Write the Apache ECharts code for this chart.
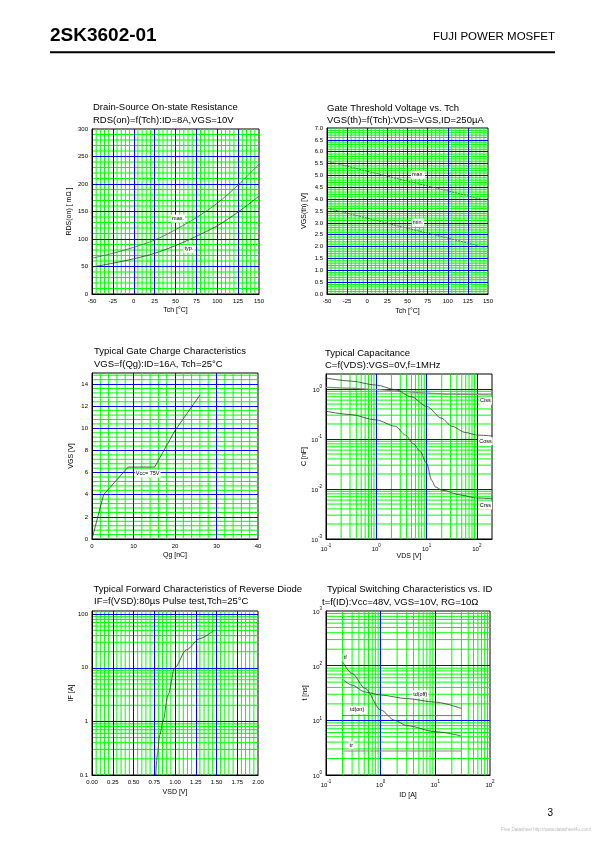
<!DOCTYPE html>
<html><head><meta charset="utf-8">
<script src="https://cdn.jsdelivr.net/npm/echarts@6/dist/echarts.min.js"></script>
<style>html,body{margin:0;padding:0;background:#fff}#c{width:595px;height:842px}</style>
</head><body><div id="c"></div>
<script>
// ---------- data ----------
// 1. RDS(on) vs Tch
const rdsTch = [-50, -25, 0, 25, 50, 75, 100, 125, 150];
const rdsTyp = [49, 56, 64, 74, 88, 105, 124, 149, 178];
const rdsMax = [65, 74, 85, 98, 117, 139, 165, 198, 236];
// 2. VGS(th) vs Tch
const vthTch = [-50, 0, 50, 100, 145];
const vthMax = [5.6, 5.18, 4.76, 4.35, 3.97];
const vthMin = [3.62, 3.2, 2.77, 2.36, 1.97];
// 3. Gate charge
const gcQg  = [0, 2.8, 8.7, 15.1, 20, 26];
const gcVgs = [0, 4.0, 6.5, 6.5, 9.8, 13.0];
// 4. Capacitance
const cissVds = [0.1, 0.3, 1, 3, 10, 30, 100, 200];
const cissC   = [1.08, 1.04, 0.98, 0.9, 0.83, 0.79, 0.77, 0.76];
const cossVds = [0.1, 0.3, 1, 2.4, 5, 10, 20, 31.6, 60, 100, 200];
const cossC   = [1.66, 1.45, 1.2, 0.97, 0.7, 0.45, 0.26, 0.18, 0.135, 0.12, 0.115];
const crssVds = [0.1, 0.3, 1, 2.4, 3.8, 5.5, 7.4, 10, 12.6, 15, 20, 50, 100, 200];
const crssC   = [0.36, 0.31, 0.24, 0.18, 0.12, 0.08, 0.057, 0.033, 0.015, 0.011, 0.0095, 0.0075, 0.0066, 0.0064];
// 5. Reverse diode
const diodeVsd = [0.767, 0.79, 0.815, 0.855, 0.916, 0.996, 1.137, 1.297, 1.466];
const diodeIf  = [0.1, 0.25, 0.56, 1.0, 3.1, 10, 21.7, 35, 50];
// 6. Switching
const tfId = [0.2, 0.3, 0.52, 1, 1.8, 3, 10, 29];
const tfT  = [118, 72, 38.5, 15.5, 10, 8, 6.2, 5.2];
const tdoffId = [0.2, 0.3, 0.52, 1, 3, 10, 30];
const tdoffT  = [57, 44, 33, 29, 25, 21.5, 16.5];
const tdonId = [0.2, 30];
const tdonT  = [12.2, 12.2];
const trId = [0.2, 30];
const trT  = [2.75, 2.75];

// ---------- helpers ----------
const FONT = 'Liberation Sans, Arial, Helvetica, sans-serif';
const BLUE = '#0000ff', GREEN = '#00ff00';
const zip = (a, b) => a.map((v, i) => [v, b[i]]);

function linMinor(min, max, major, minor) {
  const out = []; const n = Math.round((max - min) / minor);
  for (let i = 1; i < n; i++) {
    const v = +(min + i * minor).toFixed(6);
    const r = (v - min) / major;
    if (Math.abs(r - Math.round(r)) > 1e-6) out.push(v);
  }
  return out;
}
function logMinor(min, max) {
  const out = [];
  for (let d = Math.floor(Math.log10(min)); d <= Math.ceil(Math.log10(max)); d++) {
    for (let k = 2; k <= 9; k++) {
      const v = +(k * Math.pow(10, d)).toPrecision(6);
      if (v > min * 1.0001 && v < max * 0.9999) out.push(v);
    }
  }
  return out;
}
function powFmt(v) {
  const l = Math.log10(v), e = Math.round(l);
  if (Math.abs(l - e) > 1e-6) return '';
  return '{b|10}{s|' + e + '}';
}
const powRich = {
  b: { fontSize: 6, fontFamily: FONT, color: '#000', verticalAlign: 'bottom', padding: [3, 0, 0, 0] },
  s: { fontSize: 4.5, fontFamily: FONT, color: '#000', verticalAlign: 'top' }
};
function axis(gi, o, label) {
  return Object.assign({
    gridIndex: gi, z: 2,
    axisLine: { show: true, onZero: false, lineStyle: { color: '#000', width: 1 } },
    axisTick: { show: false },
    axisLabel: Object.assign({ fontSize: 6, color: '#000', fontFamily: FONT, margin: 4 }, label || {}),
    splitLine: { show: true, showMinLine: false, showMaxLine: false, lineStyle: { color: BLUE, width: 1 } },
    nameLocation: 'middle',
    nameTextStyle: { fontSize: 7, color: '#000', fontFamily: FONT }
  }, o);
}
// minor grid as one broken line series through the axes' own scales
function gridLines(gi, xs, ys, xr, yr) {
  const d = [];
  xs.forEach(v => { d.push([v, yr[0]], [v, yr[1]], ['-', '-']); });
  ys.forEach(v => { d.push([xr[0], v], [xr[1], v], ['-', '-']); });
  return {
    type: 'line', xAxisIndex: gi, yAxisIndex: gi, data: d, z: 1, silent: true, animation: false,
    showSymbol: false, symbol: 'none', connectNulls: false,
    lineStyle: { color: GREEN, width: 1 }
  };
}
function curve(gi, data, color, width, extra) {
  return Object.assign({
    type: 'line', xAxisIndex: gi, yAxisIndex: gi, data: data, showSymbol: false, symbol: 'none',
    lineStyle: { color: color, width: width }, z: 3, animation: false, silent: true
  }, extra || {});
}
function lab(gi, x, y, text) {
  return {
    type: 'scatter', xAxisIndex: gi, yAxisIndex: gi, z: 4, symbolSize: 1,
    itemStyle: { color: 'rgba(0,0,0,0)' },
    data: [[x, y]], animation: false, silent: true,
    labelLayout: { hideOverlap: false },
    label: { show: true, position: 'inside', formatter: text, fontSize: 5.5, fontFamily: FONT,
      color: '#000', backgroundColor: '#fff', padding: [1, 1], opacity: 1 }
  };
}
const gbox = { show: true, borderColor: '#000', borderWidth: 1, backgroundColor: 'transparent' };

const grids = [
  Object.assign({ left: 92, top: 129, width: 167, height: 165 }, gbox),
  Object.assign({ left: 327, top: 128, width: 161, height: 166 }, gbox),
  Object.assign({ left: 92, top: 373, width: 166, height: 166 }, gbox),
  Object.assign({ left: 326, top: 374, width: 166, height: 165 }, gbox),
  Object.assign({ left: 92, top: 611, width: 166, height: 164 }, gbox),
  Object.assign({ left: 326, top: 611, width: 164, height: 164 }, gbox)
];

const xAxes = [
  axis(0, { type: 'value', min: -50, max: 150, interval: 25, name: 'Tch [\u00b0C]', nameGap: 13 }),
  axis(1, { type: 'value', min: -50, max: 150, interval: 25, name: 'Tch [\u00b0C]', nameGap: 14 }),
  axis(2, { type: 'value', min: 0, max: 40, interval: 10, name: 'Qg [nC]', nameGap: 13 }),
  axis(3, { type: 'log', logBase: 10, min: 0.1, max: 200, name: 'VDS [V]', nameGap: 13 },
       { formatter: powFmt, rich: powRich }),
  axis(4, { type: 'value', min: 0, max: 2, interval: 0.25, name: 'VSD [V]', nameGap: 14 },
       { formatter: v => v.toFixed(2) }),
  axis(5, { type: 'log', logBase: 10, min: 0.1, max: 100, name: 'ID [A]', nameGap: 17 },
       { formatter: powFmt, rich: powRich })
];
const yAxes = [
  axis(0, { type: 'value', min: 0, max: 300, interval: 50, name: 'RDS(on) [ m\u03a9 ]', nameGap: 19 }),
  axis(1, { type: 'value', min: 0, max: 7, interval: 0.5, name: 'VGS(th) [V]', nameGap: 19 },
       { formatter: v => v.toFixed(1) }),
  axis(2, { type: 'value', min: 0, max: 15, interval: 2, name: 'VGS [V]', nameGap: 17 },
       { showMaxLabel: false }),
  axis(3, { type: 'log', logBase: 10, min: 0.001, max: 2, name: 'C [nF]', nameGap: 17 },
       { formatter: powFmt, rich: powRich }),
  axis(4, { type: 'log', logBase: 10, min: 0.1, max: 115, name: 'IF [A]', nameGap: 17 },
       { formatter: v => { const l = Math.log10(v); return Math.abs(l - Math.round(l)) < 1e-6 ? String(+v.toPrecision(3)) : ''; } }),
  axis(5, { type: 'log', logBase: 10, min: 1, max: 1000, name: 't [ns]', nameGap: 17 },
       { formatter: powFmt, rich: powRich })
];

const series = [
  gridLines(0, linMinor(-50, 150, 25, 5), linMinor(0, 300, 50, 10), [-50, 150], [0, 300]),
  gridLines(1, linMinor(-50, 150, 25, 5), linMinor(0, 7, 0.5, 0.1), [-50, 150], [0, 7]),
  gridLines(2, linMinor(0, 40, 10, 2), linMinor(0, 15, 2, 0.4), [0, 40], [0, 15]),
  gridLines(3, logMinor(0.1, 200), logMinor(0.001, 2), [0.1, 200], [0.001, 2]),
  gridLines(4, linMinor(0, 2, 0.25, 0.05), logMinor(0.1, 115), [0, 2], [0.1, 115]),
  gridLines(5, logMinor(0.1, 100), logMinor(1, 1000), [0.1, 100], [1, 1000]),

  curve(0, zip(rdsTch, rdsMax), '#555', 0.8, { smooth: 0.3 }),
  curve(0, zip(rdsTch, rdsTyp), '#333', 0.8, { smooth: 0.3 }),
  lab(0, 53, 137, 'max.'), lab(0, 66, 82, 'typ.'),

  curve(1, zip(vthTch, vthMax), '#555', 0.8, { smooth: 0.3, lineStyle: { color: '#555', width: 0.8, type: [2, 1] } }),
  curve(1, zip(vthTch, vthMin), '#555', 0.8, { smooth: 0.3, lineStyle: { color: '#555', width: 0.8, type: [2, 1] } }),
  lab(1, 63, 5.03, 'max.'), lab(1, 63, 3.01, 'min.'),

  curve(2, zip(gcQg, gcVgs), '#333', 0.8),
  lab(2, 13.4, 5.9, 'Vcc= 75V'),

  curve(3, zip(cissVds, cissC), '#888', 1.2, { smooth: 0.3, smoothMonotone: 'x' }),
  curve(3, zip(cossVds, cossC), '#333', 0.8, { smooth: 0.3, smoothMonotone: 'x' }),
  curve(3, zip(crssVds, crssC), '#333', 0.8, { smooth: 0.3, smoothMonotone: 'x' }),
  lab(3, 148, 0.58, 'Ciss'), lab(3, 148, 0.09, 'Coss'), lab(3, 148, 0.0047, 'Crss'),

  curve(4, zip(diodeVsd, diodeIf), '#333', 0.8, { smooth: 0.3, smoothMonotone: 'x' }),

  curve(5, zip(tfId, tfT), '#333', 0.8, { smooth: 0.3, smoothMonotone: 'x' }),
  curve(5, zip(tdoffId, tdoffT), '#333', 0.8, { smooth: 0.3, smoothMonotone: 'x' }),
  curve(5, zip(tdonId, tdonT), '#777', 1),
  curve(5, zip(trId, trT), '#888', 1.2),
  lab(5, 0.225, 142, 'tf'), lab(5, 5.3, 30, 'td(off)'), lab(5, 0.37, 15.5, 'td(on)'), lab(5, 0.29, 3.5, 'tr')
];

function txt(x, y, text, size, opts) {
  return { type: 'text', x: x, y: y, silent: true, z: 10,
    style: Object.assign({ text: text, fill: '#000', font: (opts && opts.weight ? opts.weight + ' ' : '') + size + 'px ' + FONT,
      textAlign: (opts && opts.align) || 'left', textVerticalAlign: 'middle',
      align: (opts && opts.align) || 'left', verticalAlign: 'middle' }, (opts && opts.style) || {}) };
}
const TS = 9.5;
const graphics = [
  txt(50, 35.5, '2SK3602-01', 19, { weight: 'bold' }),
  txt(555, 36.5, 'FUJI POWER MOSFET', 11.5, { align: 'right' }),
  { type: 'rect', shape: { x: 50, y: 51.3, width: 505, height: 2 }, style: { fill: '#000' }, silent: true },
  txt(93, 107.5, 'Drain-Source On-state Resistance', TS),
  txt(93, 120, 'RDS(on)=f(Tch):ID=8A,VGS=10V', TS),
  txt(327, 108, 'Gate Threshold Voltage vs. Tch', TS),
  txt(327, 120.5, 'VGS(th)=f(Tch):VDS=VGS,ID=250\u00b5A', TS),
  txt(94, 351.5, 'Typical Gate Charge Characteristics', TS),
  txt(94, 364, 'VGS=f(Qg):ID=16A, Tch=25\u00b0C', TS),
  txt(325, 353, 'Typical Capacitance', TS),
  txt(325, 365.5, 'C=f(VDS):VGS=0V,f=1MHz', TS),
  txt(302, 589.5, 'Typical Forward Characteristics of Reverse Diode', TS, { align: 'right' }),
  txt(94, 601, 'IF=f(VSD):80\u00b5s Pulse test,Tch=25\u00b0C', TS),
  txt(327, 589.5, 'Typical Switching Characteristics vs. ID', TS),
  txt(322, 602, 't=f(ID):Vcc=48V, VGS=10V, RG=10\u03a9', TS),
  txt(553, 813, '3', 10, { align: 'right' }),
  txt(591, 830, 'Free Datasheet http://www.datasheet4u.com/', 4.5, { align: 'right', style: { fill: '#bbb' } })
];

const chart = echarts.init(document.getElementById('c'), null, { renderer: 'canvas', width: 595, height: 842 });
chart.setOption({
  animation: false,
  backgroundColor: '#fff',
  grid: grids,
  xAxis: xAxes,
  yAxis: yAxes,
  series: series,
  graphic: graphics
});
</script>
</body></html>
